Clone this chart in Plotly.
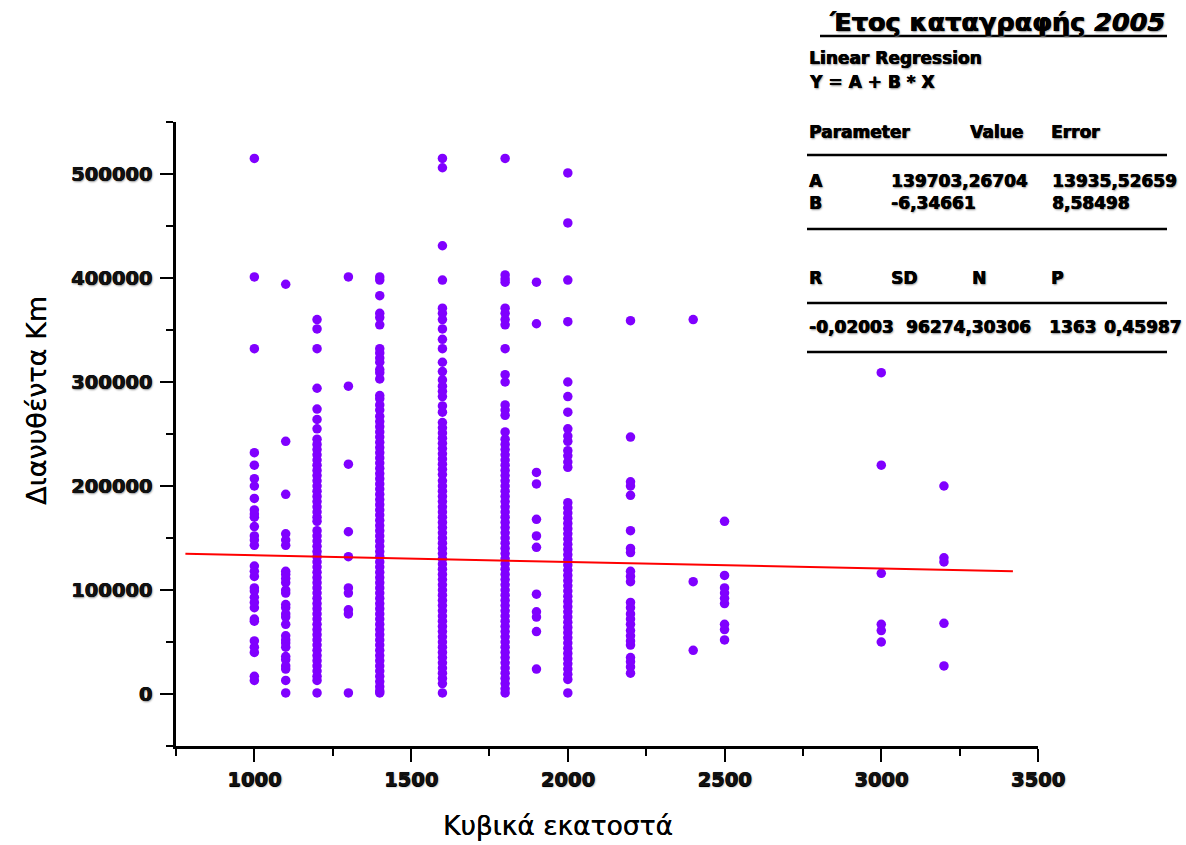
import plotly.graph_objects as go

# ---------------- data ----------------
cc_values = [1000, 1100, 1200, 1300, 1400, 1600, 1800, 1900, 2000, 2200, 2400, 2500, 3000, 3200]

km_1000 = [515000, 401000, 332000, 232000, 220000, 207000, 200000, 188000, 177000, 173000,
           170000, 161000, 152000, 148000, 143000, 123000, 118000, 113000, 102000, 99000,
           93000, 88000, 83000, 72000, 70000, 51000, 45000, 40000, 17000, 13000]
km_1100 = [394000, 243000, 192000, 154000, 148000, 143000, 118000, 115000, 111000, 107000,
           100000, 97000, 86000, 83000, 77000, 74000, 67000, 56000, 52000, 49000, 45000,
           36000, 33000, 27000, 24000, 13000, 1000]
km_1200 = [360000, 351000, 332000, 294000, 274000, 264000, 255000, 245000, 240000, 235000,
           230000, 225000, 220000, 215000, 210000, 205000, 200000, 195000, 190000, 185000,
           180000, 175000, 170000, 166000, 157000, 152000, 147000, 142000, 137000, 132000,
           127000, 122000, 117000, 112000, 107000, 102000, 97000, 92000, 87000, 82000, 77000,
           72000, 67000, 62000, 57000, 52000, 47000, 42000, 37000, 32000, 27000, 22000,
           17000, 13000, 1000]
km_1300 = [401000, 296000, 221000, 156000, 132000, 102000, 97000, 81000, 77000, 1000]
km_1400 = [401000, 398000, 383000, 366000, 362000, 355000, 332000, 328000, 323000, 319000,
           312000, 309000, 303000, 287000, 284000, 278000, 273000, 267000, 262000, 257000,
           252000, 247000, 242000, 237000, 232000, 227000, 222000, 217000, 212000, 207000,
           202000, 197000, 192000, 187000, 182000, 177000, 172000, 167000, 162000, 157000,
           152000, 147000, 142000, 137000, 132000, 127000, 122000, 117000, 112000, 107000,
           102000, 97000, 92000, 87000, 82000, 77000, 72000, 67000, 62000, 57000, 52000,
           47000, 42000, 37000, 32000, 27000, 22000, 17000, 12000, 7000, 3000, 1000]
km_1600 = [515000, 506000, 431000, 398000, 371000, 366000, 360000, 351000, 341000, 332000,
           319000, 310000, 302000, 296000, 291000, 286000, 277000, 271000, 261000, 256000,
           251000, 246000, 241000, 236000, 231000, 226000, 221000, 216000, 211000, 205000,
           200000, 195000, 190000, 185000, 180000, 175000, 170000, 165000, 160000, 155000,
           150000, 145000, 140000, 135000, 130000, 125000, 120000, 115000, 110000, 105000,
           100000, 95000, 90000, 85000, 80000, 75000, 70000, 65000, 60000, 55000, 50000,
           45000, 40000, 35000, 30000, 25000, 20000, 15000, 10000, 1000]
km_1800 = [515000, 403000, 399000, 396000, 371000, 366000, 360000, 355000, 332000, 307000,
           300000, 278000, 273000, 268000, 252000, 245000, 240000, 235000, 230000, 225000,
           220000, 215000, 210000, 205000, 200000, 195000, 190000, 185000, 180000, 175000,
           170000, 165000, 160000, 155000, 150000, 145000, 140000, 135000, 130000, 125000,
           120000, 115000, 110000, 105000, 100000, 95000, 90000, 85000, 80000, 75000, 70000,
           65000, 60000, 55000, 50000, 45000, 40000, 35000, 30000, 25000, 20000, 15000,
           10000, 5000, 1000]
km_1900 = [396000, 356000, 213000, 202000, 168000, 152000, 141000, 96000, 79000, 74000,
           60000, 24000]
km_2000 = [501000, 453000, 398000, 358000, 300000, 286000, 271000, 255000, 248000, 243000,
           234000, 229000, 223000, 218000, 184000, 179000, 174000, 169000, 164000, 159000,
           154000, 149000, 144000, 139000, 134000, 129000, 124000, 119000, 114000, 109000,
           104000, 99000, 94000, 89000, 84000, 79000, 74000, 69000, 64000, 59000, 54000,
           49000, 44000, 39000, 34000, 29000, 24000, 19000, 14000, 1000]
km_2200 = [359000, 247000, 204000, 200000, 191000, 157000, 140000, 136000, 118000, 113000,
           108000, 88000, 83000, 77000, 72000, 67000, 61000, 56000, 51000, 47000, 35000,
           31000, 26000, 20000]
km_2400 = [360000, 108000, 42000]
km_2500 = [166000, 114000, 102000, 97000, 92000, 87000, 67000, 62000, 52000]
km_3000 = [309000, 220000, 116000, 67000, 61000, 50000]
km_3200 = [200000, 131000, 127000, 68000, 27000]

km_columns = [km_1000, km_1100, km_1200, km_1300, km_1400, km_1600, km_1800,
              km_1900, km_2000, km_2200, km_2400, km_2500, km_3000, km_3200]

# regression line (Y = A + B*X) endpoints
fit_x = [780, 3420]
fit_y = [134753, 117998]

x_tickvals = [1000, 1500, 2000, 2500, 3000, 3500]
y_tickvals = [0, 100000, 200000, 300000, 400000, 500000]

# ---------------- figure ----------------
xs, ys = [], []
for cc, col in zip(cc_values, km_columns):
    xs += [cc] * len(col)
    ys += col

W, H = 1186, 845
L, R, T, B = 176, 1038, 122, 746


def px(x):
    return (x - L) / (R - L)


def py(y):
    return (B - y) / (B - T)


HEAVY = "0.6px 0 0 #000, 0 0.4px 0 #000, 1px 1px 2px #888888"

fig = go.Figure()
fig.add_trace(go.Scatter(x=xs, y=ys, mode="markers",
                         marker=dict(size=9.5, color="#8000ff", line=dict(width=0)),
                         showlegend=False, hoverinfo="skip"))
fig.add_trace(go.Scatter(x=fit_x, y=fit_y, mode="lines",
                         line=dict(color="#ff0000", width=2),
                         showlegend=False, hoverinfo="skip"))

tickfont = dict(family="DejaVu Sans", size=19.5, color="#111111", weight="bold",
                shadow=HEAVY)

fig.update_xaxes(range=[750, 3500], tickvals=x_tickvals, ticktext=[str(v) for v in x_tickvals],
                 showgrid=False, zeroline=False, showline=True, linecolor="black", linewidth=2.5,
                 ticks="outside", ticklen=13, tickwidth=2, tickcolor="black", tickfont=tickfont,
                 ticklabelstandoff=1,
                 minor=dict(ticks="outside", ticklen=7, tickwidth=2, tickcolor="black",
                            dtick=250, tick0=750, showgrid=False))
fig.update_yaxes(range=[-50000, 550000], tickvals=y_tickvals, ticktext=[str(v) for v in y_tickvals],
                 showgrid=False, zeroline=False, showline=True, linecolor="black", linewidth=2.5,
                 ticks="outside", ticklen=13, tickwidth=2, tickcolor="black", tickfont=tickfont,
                 ticklabelstandoff=4,
                 minor=dict(ticks="outside", ticklen=7, tickwidth=2, tickcolor="black",
                            dtick=50000, tick0=0, showgrid=False))

annotations = []


def txt(text, x, y, size=17, anchor="left", bold=True, family="DejaVu Sans", angle=0,
        shadow=HEAVY):
    annotations.append(dict(text=text, xref="paper", yref="paper", x=px(x), y=py(y),
                            xanchor=anchor, yanchor="middle", showarrow=False, textangle=angle,
                            font=dict(family=family, size=size, color="black",
                                      weight="bold" if bold else "normal",
                                      shadow=shadow)))


# title
txt("Έτος καταγραφής <i>2005</i>", 1167, 22, size=25.5, anchor="right")
# regression table
txt("Linear Regression", 807, 58)
txt("Y = A + B * X", 807, 82)
txt("Parameter", 807, 132)
txt("Value", 968, 132)
txt("Error", 1049, 132)
txt("A", 807, 181)
txt("139703,26704", 889, 181)
txt("13935,52659", 1050, 181)
txt("B", 807, 203)
txt("-6,34661", 889, 203)
txt("8,58498", 1050, 203)
txt("R", 807, 278)
txt("SD", 889, 278)
txt("N", 970, 278)
txt("P", 1049, 278)
txt("-0,02003", 807, 327)
txt("96274,30306", 904, 327)
txt("1363", 1047, 327)
txt("0,45987", 1102, 327)
# axis titles
txt("Κυβικά εκατοστά", 558, 825, size=26.5, anchor="center", bold=False,
    shadow="0.3px 0 0 #000")
txt("Διανυθέντα Km", 36, 401, size=27, anchor="center", bold=False, angle=-90,
    shadow="0.3px 0 0 #000")

shapes = []
for yy in [155, 229, 303, 352]:
    shapes.append(dict(type="line", xref="paper", yref="paper", x0=px(807), x1=px(1167),
                       y0=py(yy), y1=py(yy), line=dict(color="black", width=2.5)))
shapes.append(dict(type="line", xref="paper", yref="paper", x0=px(820), x1=px(1167),
                   y0=py(36), y1=py(36), line=dict(color="black", width=2.5)))

fig.update_layout(width=W, height=H, margin=dict(l=L, r=W - R, t=T, b=H - B, pad=0),
                  plot_bgcolor="white", paper_bgcolor="white",
                  annotations=annotations, shapes=shapes, showlegend=False)

fig.write_html("out.html")
